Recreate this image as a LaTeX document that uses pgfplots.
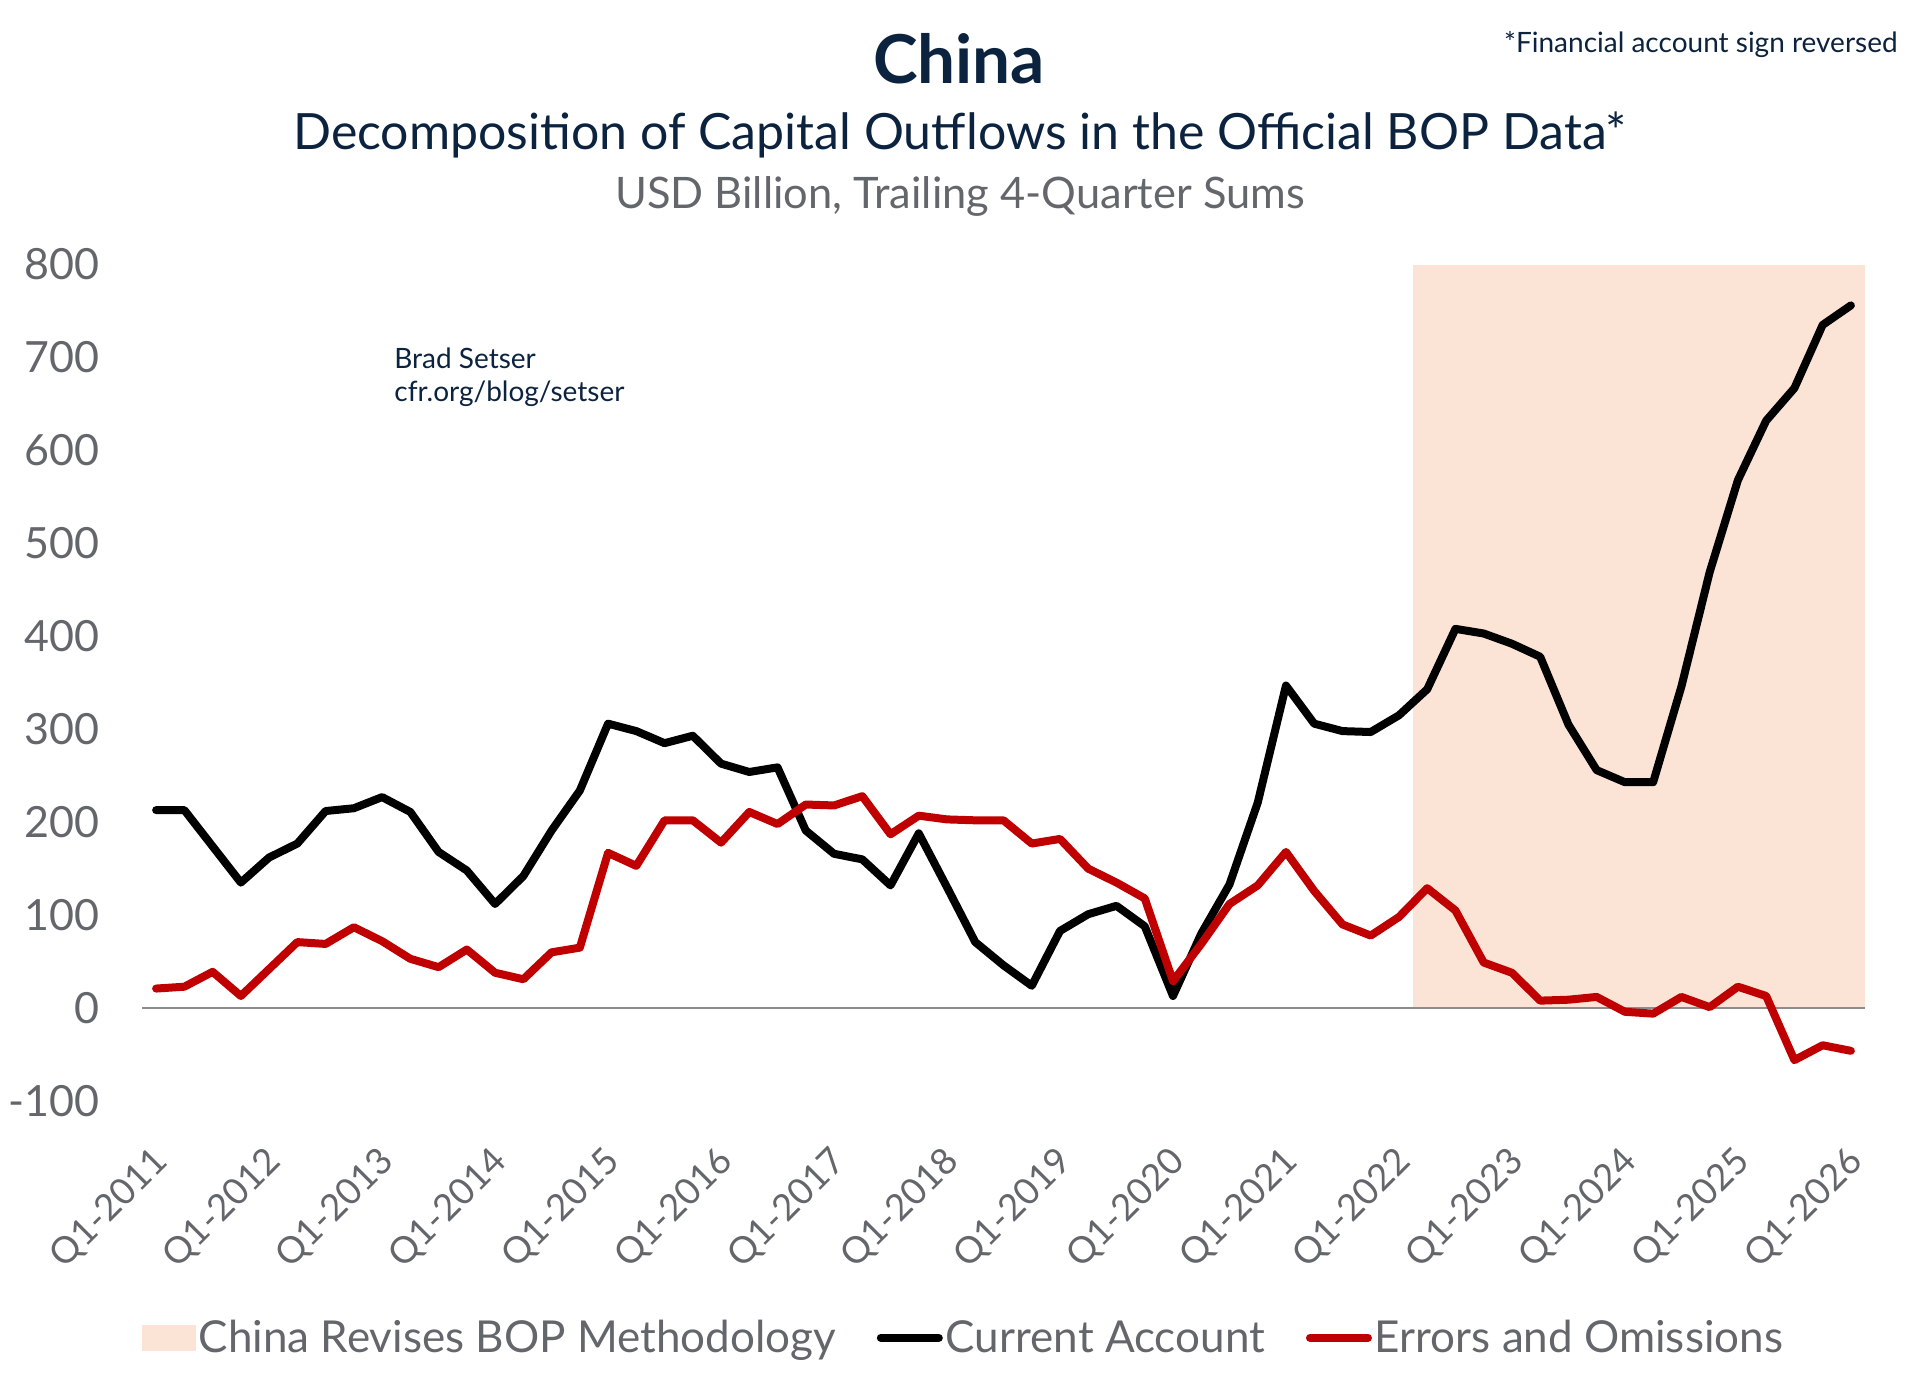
\documentclass[border=0pt]{standalone}
\usepackage{pgfplots}
\pgfplotsset{compat=1.18}
\usepackage{fontspec}
\setmainfont{Lato}
\definecolor{navy}{HTML}{0C2340}
\definecolor{txtgray}{HTML}{63666A}
\definecolor{peach}{HTML}{FBE3D6}
\definecolor{eored}{HTML}{C00000}
\definecolor{zerogray}{HTML}{8C8C8C}
\pgfplotstableread{
x ca eo
0 213 21
1 213 23
2 174 39
3 135 13
4 162 42
5 177 71
6 212 69
7 215 87
8 227 72
9 211 53
10 168 44
11 148 63
12 112 38
13 142 31
14 191 60
15 234 65
16 306 167
17 298 153
18 285 202
19 293 202
20 263 178
21 254 211
22 259 198
23 191 219
24 166 218
25 160 228
26 132 187
27 188 207
28 130 203
29 71 202
30 46 202
31 24 177
32 83 182
33 101 150
34 110 135
35 88 118
36 13 29
37 80 69
38 133 112
39 221 132
40 347 168
41 306 126
42 298 90
43 297 78
44 315 98
45 343 129
46 408 105
47 403 49
48 392 38
49 378 8
50 305 9
51 256 12
52 243 -4
53 243 -6
54 346 12
55 469 1
56 568 23
57 632 13
58 667 -56
59 735 -40
60 756 -46
}\datatable
\begin{document}
\begin{tikzpicture}
\path[use as bounding box] (0,0) rectangle (960pt,-696.5pt);
\node[anchor=base, font=\fontsize{33.7}{38}\selectfont\bfseries, text=navy, inner sep=0pt] at (479.5pt,-41.6pt) {China};
\node[anchor=base, font=\fontsize{25}{30}\selectfont, text=navy, inner sep=0pt] at (480pt,-74.7pt) {Decomposition of Capital Outflows in the Official BOP Data*};
\node[anchor=base, font=\fontsize{21.7}{26}\selectfont, text=txtgray, inner sep=0pt] at (480pt,-104pt) {USD Billion, Trailing 4-Quarter Sums};
\node[anchor=base east, font=\fontsize{14}{17}\selectfont, text=navy, inner sep=0pt] at (949pt,-26.3pt) {*Financial account sign reversed};
\node[anchor=base west, font=\fontsize{14}{16}\selectfont, text=navy, inner sep=0pt] at (197pt,-184.2pt) {Brad Setser};
\node[anchor=base west, font=\fontsize{14}{16}\selectfont, text=navy, inner sep=0pt] at (197pt,-200.5pt) {cfr.org/blog/setser};
\begin{axis}[
  at={(71pt,-550.5pt)}, anchor=south west,
  scale only axis, width=861.5pt, height=418.25pt,
  xmin=-0.5, xmax=60.5, ymin=-100, ymax=800,
  axis line style={draw=none},
  tick style={draw=none},
  ytick={-100,0,100,200,300,400,500,600,700,800},
  yticklabels={-100,0,100,200,300,400,500,600,700,800},
  yticklabel style={anchor=east, inner sep=0pt, xshift=-21pt, text=txtgray, font=\fontsize{21.5}{24}\selectfont},
  xtick={0,4,...,60},
  xticklabels={Q1-2011,Q1-2012,Q1-2013,Q1-2014,Q1-2015,Q1-2016,Q1-2017,Q1-2018,Q1-2019,Q1-2020,Q1-2021,Q1-2022,Q1-2023,Q1-2024,Q1-2025,Q1-2026},
  xticklabel style={rotate=45, anchor=east, inner sep=0pt, yshift=-21.7pt, xshift=-17.2pt, text=txtgray, font=\fontsize{18.3}{21}\selectfont},
  clip=false,
  legend columns=3,
  legend style={at={(0.477,-0.283)}, anchor=center, draw=none, fill=none,
    font=\fontsize{22}{26}\selectfont, text=txtgray,
    nodes={inner sep=1.5pt},
    /tikz/every even column/.append style={column sep=19pt}},
]
\addplot[fill=peach, draw=none, area legend,
  legend image code/.code={\fill[peach] (0pt,-6.5pt) rectangle (27pt,6.5pt);}]
  coordinates {(44.5,0) (44.5,800) (60.5,800) (60.5,0)};
\addlegendentry{China Revises BOP Methodology}
\addplot[zerogray, line width=1pt, forget plot] coordinates {(-0.5,0) (60.5,0)};
\addplot[black, line width=4pt, line join=round, line cap=round,
  legend image code/.code={\path (0pt,0pt) -- (29pt,0pt);\draw[black, line width=4pt, line cap=round] (2pt,0pt) -- (27pt,0pt);}]
  table[x=x, y=ca] {\datatable};
\addlegendentry{Current Account}
\addplot[eored, line width=4pt, line join=round, line cap=round,
  legend image code/.code={\path (0pt,0pt) -- (29pt,0pt);\draw[eored, line width=4pt, line cap=round] (2pt,0pt) -- (27pt,0pt);}]
  table[x=x, y=eo] {\datatable};
\addlegendentry{Errors and Omissions}
\end{axis}
\end{tikzpicture}
\end{document}
